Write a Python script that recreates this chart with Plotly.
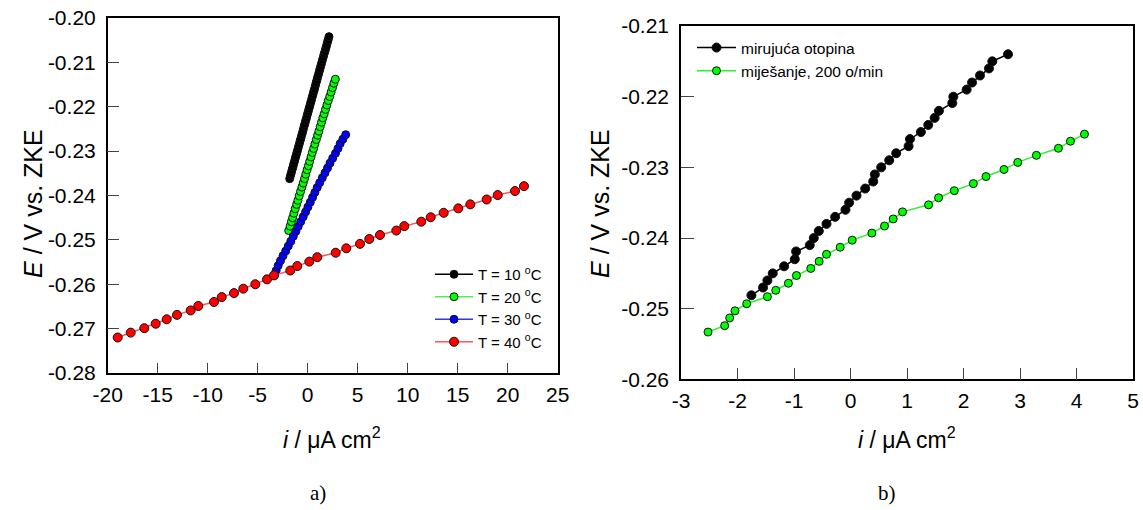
import plotly.graph_objects as go

# ---------------- data: panel a) ----------------
i_10 = [-1.80, -1.72, -1.64, -1.56, -1.48, -1.40, -1.32, -1.24, -1.16, -1.08,
        -1.00, -0.92, -0.84, -0.76, -0.68, -0.60, -0.52, -0.44, -0.36, -0.28,
        -0.20, -0.12, -0.04, 0.04, 0.12, 0.20, 0.28, 0.36, 0.44, 0.52,
        0.60, 0.68, 0.76, 0.84, 0.92, 1.00, 1.08, 1.16, 1.24, 1.32,
        1.40, 1.48, 1.56, 1.64, 1.73, 1.81, 1.89, 1.97, 2.05, 2.13]
E_10 = [-0.2362, -0.2355, -0.2349, -0.2342, -0.2336, -0.2329, -0.2323, -0.2316, -0.2310, -0.2303,
        -0.2297, -0.2290, -0.2284, -0.2277, -0.2271, -0.2264, -0.2258, -0.2251, -0.2244, -0.2238,
        -0.2231, -0.2225, -0.2218, -0.2212, -0.2205, -0.2199, -0.2192, -0.2186, -0.2179, -0.2173,
        -0.2166, -0.2160, -0.2153, -0.2146, -0.2140, -0.2133, -0.2127, -0.2120, -0.2114, -0.2107,
        -0.2101, -0.2094, -0.2088, -0.2081, -0.2075, -0.2068, -0.2062, -0.2055, -0.2049, -0.2042]

i_20 = [-1.90, -1.76, -1.63, -1.51, -1.38, -1.25, -1.11, -0.98, -0.85, -0.72,
        -0.58, -0.45, -0.32, -0.19, -0.06, 0.07, 0.20, 0.33, 0.46, 0.59,
        0.72, 0.86, 0.99, 1.12, 1.25, 1.38, 1.51, 1.65, 1.78, 1.92,
        2.06, 2.20, 2.34, 2.48, 2.62, 2.76]
E_20 = [-0.2479, -0.2469, -0.2459, -0.2450, -0.2440, -0.2430, -0.2420, -0.2411, -0.2401, -0.2391,
        -0.2381, -0.2372, -0.2362, -0.2352, -0.2342, -0.2333, -0.2323, -0.2313, -0.2303, -0.2294,
        -0.2284, -0.2274, -0.2264, -0.2255, -0.2245, -0.2235, -0.2225, -0.2216, -0.2206, -0.2196,
        -0.2186, -0.2177, -0.2167, -0.2157, -0.2147, -0.2138]

i_30 = [-3.34, -3.15, -2.95, -2.72, -2.47, -2.20, -1.94, -1.69, -1.44, -1.19,
        -0.95, -0.70, -0.45, -0.21, 0.02, 0.26, 0.49, 0.72, 0.95, 1.20,
        1.46, 1.73, 1.98, 2.23, 2.50, 2.78, 3.03, 3.25, 3.52, 3.80]
E_30 = [-0.2580, -0.2569, -0.2558, -0.2547, -0.2536, -0.2525, -0.2514, -0.2503, -0.2492, -0.2481,
        -0.2470, -0.2459, -0.2448, -0.2437, -0.2426, -0.2415, -0.2404, -0.2393, -0.2382, -0.2371,
        -0.2360, -0.2349, -0.2338, -0.2327, -0.2316, -0.2305, -0.2294, -0.2283, -0.2273, -0.2263]

i_40 = [-19.0, -17.7, -16.34, -15.2, -14.1, -13.07, -11.7, -10.94, -9.37, -8.6,
        -7.37, -6.44, -5.24, -4.07, -3.37, -1.74, -1.04, 0.16, 0.96, 2.8,
        3.86, 5.23, 6.16, 7.23, 8.86, 9.66, 11.36, 12.3, 13.6, 15.06,
        16.26, 17.9, 19.0, 20.73, 21.63]
E_40 = [-0.2720, -0.2709, -0.2699, -0.2689, -0.2679, -0.2669, -0.2659, -0.2649, -0.2640, -0.2629,
        -0.2620, -0.2610, -0.2600, -0.2589, -0.2580, -0.2569, -0.2559, -0.2549, -0.2539, -0.2529,
        -0.2519, -0.2509, -0.2498, -0.2489, -0.2479, -0.2469, -0.2459, -0.2449, -0.2439, -0.2429,
        -0.2420, -0.2409, -0.2399, -0.2390, -0.2379]

# ---------------- data: panel b) ----------------
i_still = [-1.754, -1.548, -1.471, -1.376, -1.175, -0.986, -0.963, -0.721, -0.650, -0.561,
           -0.425, -0.272, -0.089, -0.024, 0.106, 0.260, 0.402, 0.431, 0.543, 0.685,
           0.809, 1.028, 1.052, 1.246, 1.376, 1.489, 1.565, 1.802, 1.820, 2.056,
           2.151, 2.292, 2.451, 2.510, 2.788]
E_still = [-0.2481, -0.2470, -0.2460, -0.2450, -0.2440, -0.2430, -0.2419, -0.2410, -0.2400, -0.2390,
           -0.2380, -0.2370, -0.2360, -0.2350, -0.2340, -0.2330, -0.2320, -0.2310, -0.2300, -0.2290,
           -0.2280, -0.2270, -0.2260, -0.2250, -0.2240, -0.2230, -0.2220, -0.2209, -0.2200, -0.2190,
           -0.2180, -0.2170, -0.2160, -0.2150, -0.2140]

i_stir = [-2.522, -2.227, -2.138, -2.044, -1.837, -1.471, -1.323, -1.099, -0.957, -0.703,
          -0.555, -0.425, -0.183, 0.030, 0.378, 0.602, 0.756, 0.921, 1.382, 1.559,
          1.837, 2.174, 2.398, 2.717, 2.960, 3.290, 3.680, 3.893, 4.141]
E_stir = [-0.2533, -0.2524, -0.2513, -0.2503, -0.2493, -0.2483, -0.2474, -0.2464, -0.2453, -0.2443,
          -0.2433, -0.2423, -0.2413, -0.2403, -0.2393, -0.2383, -0.2373, -0.2363, -0.2353, -0.2343,
          -0.2333, -0.2323, -0.2313, -0.2303, -0.2293, -0.2283, -0.2273, -0.2263, -0.2253]

# ---------------- tick labels ----------------
xa_ticks = [-20, -15, -10, -5, 0, 5, 10, 15, 20, 25]
xa_text = ["-20", "-15", "-10", "-5", "0", "5", "10", "15", "20", "25"]
ya_ticks = [-0.28, -0.27, -0.26, -0.25, -0.24, -0.23, -0.22, -0.21, -0.20]
ya_text = ["-0.28", "-0.27", "-0.26", "-0.25", "-0.24", "-0.23", "-0.22", "-0.21", "-0.20"]
xb_ticks = [-3, -2, -1, 0, 1, 2, 3, 4, 5]
xb_text = ["-3", "-2", "-1", "0", "1", "2", "3", "4", "5"]
yb_ticks = [-0.26, -0.25, -0.24, -0.23, -0.22, -0.21]
yb_text = ["-0.26", "-0.25", "-0.24", "-0.23", "-0.22", "-0.21"]

FONT = "Liberation Sans, Arial, sans-serif"
W, H = 1143, 510

fig = go.Figure()

def add(x, y, name, mcol, lcol, xa, ya, leg, msize=8):
    fig.add_trace(go.Scatter(
        x=x, y=y, name=name, mode="lines+markers",
        line=dict(color=lcol, width=1.5),
        marker=dict(color=mcol, size=msize, symbol="circle",
                    line=dict(color="#111111", width=1)),
        xaxis=xa, yaxis=ya, legend=leg))

add(i_10, E_10, "T = 10 <sup>o</sup>C", "#000000", "#000000", "x", "y", "legend")
add(i_20, E_20, "T = 20 <sup>o</sup>C", "#00ff00", "#55ee55", "x", "y", "legend")
add(i_30, E_30, "T = 30 <sup>o</sup>C", "#0000ff", "#3333ff", "x", "y", "legend")
add(i_40, E_40, "T = 40 <sup>o</sup>C", "#ff0000", "#ff5555", "x", "y", "legend", msize=9)
add(i_still, E_still, "mirujuća otopina", "#000000", "#000000", "x2", "y2", "legend2", msize=9)
add(i_stir, E_stir, "miješanje, 200 o/min", "#00ff00", "#33ee33", "x2", "y2", "legend2", msize=8)

axis_common = dict(showline=True, linecolor="#000000", linewidth=1.5, mirror=True,
                   ticks="inside", tickcolor="#444444", tickwidth=1,
                   showgrid=False, zeroline=False, automargin=False,
                   tickfont=dict(family=FONT, size=21, color="#000000"))

fig.update_layout(
    template="none",
    width=W, height=H,
    margin=dict(l=0, r=0, t=0, b=0, autoexpand=False),
    paper_bgcolor="white", plot_bgcolor="white",
    font=dict(family=FONT, color="#000000"),
    xaxis=dict(domain=[107.7 / W, 557.7 / W], range=[-20, 25], anchor="y",
               tickvals=xa_ticks, ticktext=xa_text, ticklen=10, ticklabelstandoff=2,
               **axis_common),
    yaxis=dict(domain=[1 - 373 / H, 1 - 18 / H], range=[-0.28, -0.20], anchor="x",
               tickvals=ya_ticks, ticktext=ya_text, ticklen=12, ticklabelstandoff=6,
               **axis_common),
    xaxis2=dict(domain=[681 / W, 1133 / W], range=[-3, 5], anchor="y2",
                tickvals=xb_ticks, ticktext=xb_text, ticklen=12, ticklabelstandoff=2,
                **axis_common),
    yaxis2=dict(domain=[1 - 379.4 / H, 1 - 26 / H], range=[-0.26, -0.21], anchor="x2",
                tickvals=yb_ticks, ticktext=yb_text, ticklen=13, ticklabelstandoff=6,
                **axis_common),
    legend=dict(x=430 / W, y=1 - 258 / H, xanchor="left", yanchor="top",
                bgcolor="rgba(0,0,0,0)", borderwidth=0, tracegroupgap=0, itemwidth=38,
                font=dict(family=FONT, size=15, color="#000000")),
    legend2=dict(x=692 / W, y=1 - 31 / H, xanchor="left", yanchor="top",
                 bgcolor="rgba(0,0,0,0)", borderwidth=0, tracegroupgap=0, itemwidth=39,
                 font=dict(family=FONT, size=15.5, color="#000000")),
    showlegend=True,
)

ann_font = dict(family=FONT, size=23, color="#000000")
yt_font = dict(family=FONT, size=25, color="#000000")
fig.add_annotation(text="<i>E</i> / V vs. ZKE", x=33 / W, y=1 - 204 / H, xref="paper", yref="paper",
                   textangle=-90, showarrow=False, font=yt_font, xanchor="center", yanchor="middle")
fig.add_annotation(text="<i>E</i> / V vs. ZKE", x=600 / W, y=1 - 204 / H, xref="paper", yref="paper",
                   textangle=-90, showarrow=False, font=yt_font, xanchor="center", yanchor="middle")
fig.add_annotation(text="<i>i</i> / μA cm<sup>2</sup>", x=332 / W, y=1 - 438 / H, xref="paper", yref="paper",
                   showarrow=False, font=ann_font, xanchor="center", yanchor="middle")
fig.add_annotation(text="<i>i</i> / μA cm<sup>2</sup>", x=907 / W, y=1 - 438 / H, xref="paper", yref="paper",
                   showarrow=False, font=ann_font, xanchor="center", yanchor="middle")
serif = dict(family="Liberation Serif, Times New Roman, serif", size=21, color="#000000")
fig.add_annotation(text="a)", x=318 / W, y=1 - 493 / H, xref="paper", yref="paper",
                   showarrow=False, font=serif, xanchor="center", yanchor="middle")
fig.add_annotation(text="b)", x=887 / W, y=1 - 493 / H, xref="paper", yref="paper",
                   showarrow=False, font=serif, xanchor="center", yanchor="middle")

fig.write_html("out.html", config={"displayModeBar": False},
               post_script="document.body.style.margin='0';document.body.style.overflow='hidden';")
